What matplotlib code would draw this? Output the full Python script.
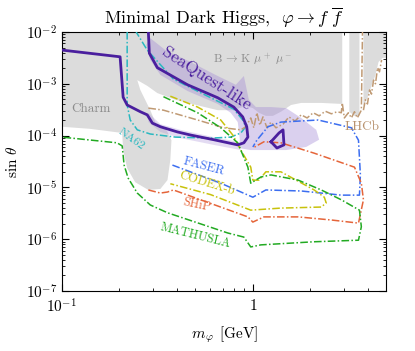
import numpy as np
import matplotlib
matplotlib.use("Agg")
import matplotlib.pyplot as plt

plt.rcParams['font.family'] = 'serif'
plt.rcParams['font.serif'] = ['cmr10', 'DejaVu Serif']
plt.rcParams['mathtext.fontset'] = 'cm'
plt.rcParams['axes.formatter.use_mathtext'] = True

# all curves as log10(m / GeV), log10(sin theta)
excl_logm = [-1.0, -0.853, -0.684, -0.679, -0.658, -0.616, -0.547, -0.484, -0.447, -0.432,
             -0.426, -0.458, -0.511, -0.537, -0.589, -0.605, -0.553, -0.5, -0.405, -0.274,
             -0.184, -0.105, -0.037, 0.0, 0.032, 0.068, 0.105, 0.147, 0.2, 0.253,
             0.358, 0.468, 0.468, 0.505, 0.505, 0.532, 0.558, 0.558, 0.579, 0.579,
             0.6, 0.621, 0.642, 0.658, 0.679, 0.699, 0.699, -1.0]
excl_logs = [-3.83, -3.87, -3.95, -4.28, -4.63, -4.9, -5.05, -5.03, -4.86, -4.47,
             -4.09, -3.85, -3.74, -3.51, -3.12, -2.93, -3.04, -3.18, -3.31, -3.43,
             -3.51, -3.51, -3.43, -3.47, -3.56, -3.62, -3.62, -3.54, -3.41, -3.37,
             -3.37, -3.39, -2.0, -2.0, -3.54, -3.62, -3.62, -2.0, -2.0, -3.43,
             -3.27, -3.04, -2.83, -2.58, -2.5, -2.5, -2.0, -2.0]

band_logm = [-0.537, -0.458, -0.326, -0.195, -0.089, -0.047, -0.021, 0.016, 0.095, 0.174,
             0.253, 0.332, 0.347, 0.279, 0.174, 0.068, -0.011, -0.074, -0.068, -0.079,
             -0.116, -0.184, -0.342, -0.484, -0.537, -0.558]
band_logs = [-2.12, -2.35, -2.58, -2.83, -3.02, -2.85, -3.31, -3.45, -3.45, -3.47,
             -3.66, -3.89, -4.08, -4.22, -4.28, -4.28, -4.28, -4.24, -4.08, -3.74,
             -3.56, -3.39, -3.14, -2.83, -2.54, -2.25]
band2_logm = [-0.547, -0.484, -0.379, -0.205, -0.079, -0.063, -0.205, -0.379, -0.484, -0.547]
band2_logs = [-3.56, -3.78, -3.89, -4.03, -4.12, -4.28, -4.18, -4.05, -3.93, -3.74]

seaquest_logm = [-1.0, -0.695, -0.679, -0.658, -0.589, -0.553, -0.526, -0.484, -0.395, -0.326,
                 -0.205, -0.079, -0.047, -0.026, -0.032, -0.053, -0.1, -0.184, -0.342, -0.5,
                 -0.542, -0.547]
seaquest_logs = [-2.35, -2.48, -3.26, -3.41, -3.54, -3.6, -3.76, -3.83, -3.93, -3.99,
                 -4.08, -4.18, -4.14, -4.03, -3.83, -3.64, -3.45, -3.27, -3.02, -2.69,
                 -2.41, -2.0]
island_logm = [0.095, 0.137, 0.158, 0.163, 0.126, 0.095]
island_logs = [-4.12, -3.95, -3.89, -4.18, -4.24, -4.12]

na62_logm = [-0.658, -0.658, -0.642, -0.605, -0.537, -0.405, -0.221, -0.116, -0.063, -0.037,
             -0.053, -0.1, -0.237, -0.416, -0.553, -0.611]
na62_logs = [-2.0, -3.41, -3.7, -3.89, -3.97, -4.03, -4.05, -4.03, -3.95, -3.83,
             -3.7, -3.49, -3.24, -2.91, -2.35, -2.0]

lhcb_logm = [-0.547, -0.468, -0.289, -0.153, -0.063, -0.037, -0.011, 0.005, 0.021, 0.037,
             0.053, 0.074, 0.095, 0.121, 0.158, 0.189, 0.221, 0.253, 0.284, 0.316,
             0.347, 0.379, 0.411, 0.442, 0.463, 0.468, 0.479, 0.5, 0.516, 0.532,
             0.547, 0.568, 0.574]
lhcb_logs = [-3.47, -3.51, -3.7, -3.85, -3.89, -3.83, -3.66, -3.85, -3.56, -3.8,
             -3.64, -3.85, -3.74, -3.85, -3.78, -3.64, -3.72, -3.6, -3.66, -3.56,
             -3.62, -3.53, -3.58, -3.54, -3.56, -3.37, -3.66, -3.56, -3.66, -3.54,
             -3.66, -3.51, -2.0]
lhcb2_logm = [0.579, 0.589, 0.6, 0.611, 0.621, 0.632, 0.642, 0.653, 0.663, 0.674]
lhcb2_logs = [-3.51, -3.31, -3.39, -3.12, -3.2, -2.93, -3.0, -2.69, -2.77, -2.54]

faser_logm = [-0.421, -0.168, 0.0, 0.068, 0.253, 0.463, 0.558, 0.563, 0.553, 0.516,
              0.342, 0.147, 0.079, 0.021, 0.0]
faser_logs = [-4.57, -4.92, -5.19, -5.05, -5.07, -5.15, -5.15, -4.76, -4.09, -3.85,
              -3.7, -3.74, -3.83, -4.09, -4.22]

codex_logm = [-0.432, -0.289, -0.168, -0.105, -0.063, -0.011, 0.0, 0.032, 0.068, 0.147,
              0.321, 0.374, 0.384, 0.358, 0.147, -0.011, -0.221, -0.432]
codex_logs = [-3.24, -3.45, -3.7, -3.99, -4.28, -4.61, -4.86, -4.86, -4.7, -4.7,
              -5.05, -5.19, -5.3, -5.38, -5.4, -5.44, -5.14, -4.93]

ship_logm = [-0.547, -0.484, -0.447, -0.416, -0.026, 0.0, 0.058, 0.237, 0.411, 0.553,
             0.579, 0.568, 0.532, 0.321, 0.147, 0.058, 0.0]
ship_logs = [-5.05, -5.11, -5.09, -5.05, -5.57, -5.67, -5.57, -5.57, -5.63, -5.69,
             -5.24, -4.92, -4.61, -4.34, -4.14, -4.12, -4.24]

mathusla_logm = [-0.468, -0.289, -0.168, -0.079, -0.026, -0.011, 0.042, 0.095, 0.237, 0.358,
                 0.463, 0.558, 0.568, 0.553, 0.321, 0.042, -0.011, -0.047, -0.132, -0.447,
                 -0.537, -0.605, -0.653, -0.674, -0.684, -0.711, -1.0]
mathusla_logs = [-3.25, -3.56, -3.85, -4.14, -4.61, -4.92, -4.8, -4.76, -4.86, -5.05,
                 -5.24, -5.44, -5.76, -6.02, -6.05, -6.11, -6.15, -5.96, -5.88, -5.49,
                 -5.34, -5.11, -4.82, -4.57, -4.2, -4.14, -4.03]


def p(lm, ls):
    return 10 ** np.array(lm), 10 ** np.array(ls)


fig = plt.figure(figsize=(4.15, 3.51), dpi=100)
ax = fig.add_axes([0.149, 0.171, 0.782, 0.738])
ax.set_xscale('log')
ax.set_yscale('log')

ax.fill(*p(excl_logm, excl_logs), color='#dcdcdc', lw=0, zorder=1)
ax.fill(*p(band_logm, band_logs), color='#a48ad6', alpha=0.4, lw=0, zorder=2)
ax.fill(*p(band2_logm, band2_logs), color='#a48ad6', alpha=0.3, lw=0, zorder=2)

dd = (0, (5, 1.5, 1, 1.5))
ax.plot(*p(na62_logm, na62_logs), color='#2ab8c0', lw=1.1, ls=dd, zorder=3)
ax.plot(*p(lhcb_logm, lhcb_logs), color='#c09a74', lw=1.1, ls=dd, zorder=3)
ax.plot(*p(lhcb2_logm, lhcb2_logs), color='#c09a74', lw=1.1, ls=dd, zorder=3)
ax.plot(*p(faser_logm, faser_logs), color='#3c6ef0', lw=1.1, ls=dd, zorder=3)
ax.plot(*p(codex_logm, codex_logs), color='#c8c20c', lw=1.1, ls=dd, zorder=3)
ax.plot(*p(ship_logm, ship_logs), color='#e5653a', lw=1.1, ls=dd, zorder=3)
ax.plot(*p(mathusla_logm, mathusla_logs), color='#22aa22', lw=1.1, ls=dd, zorder=3)
ax.plot(*p(seaquest_logm, seaquest_logs), color='#4a1f9e', lw=2, zorder=4)
ax.plot(*p(island_logm, island_logs), color='#4a1f9e', lw=2, zorder=4)

ax.text(0.57, 1.25e-3, 'SeaQuest-like', color='#4a1f9e', fontsize=12.5, rotation=-33,
        ha='center', va='center', zorder=5)
ax.text(1.0, 2.9e-3, r'B$\,\to\,$K $\mu^+\ \mu^-$', color='#8c8c8c', fontsize=8.5,
        ha='center', va='center')
ax.text(0.142, 3.2e-4, 'Charm', color='#8c8c8c', fontsize=9.5, ha='center', va='center')
ax.text(3.75, 1.47e-4, 'LHCb', color='#b8926e', fontsize=9.5, ha='center', va='center')
ax.text(0.231, 8.5e-5, 'NA62', color='#2ab8c0', fontsize=8.5, rotation=-35, ha='center', va='center')
ax.text(0.552, 2.5e-5, 'FASER', color='#3c6ef0', fontsize=9, rotation=-15, ha='center', va='center')
ax.text(0.57, 1.18e-5, 'CODEX-b', color='#c8c20c', fontsize=9, rotation=-17, ha='center', va='center')
ax.text(0.507, 4.6e-6, 'SHiP', color='#e5653a', fontsize=9, rotation=-12, ha='center', va='center')
ax.text(0.50, 1.15e-6, 'MATHUSLA', color='#22aa22', fontsize=9, rotation=-14, ha='center', va='center')

ax.set_xlim(0.1, 5)
ax.set_ylim(1e-7, 1e-2)
ax.set_xticks([0.1, 1])
ax.set_xticklabels([r'$10^{-1}$', r'$1$'])
ax.set_yticks([1e-7, 1e-6, 1e-5, 1e-4, 1e-3, 1e-2])
ax.tick_params(which='both', direction='in', top=True, right=True, labelsize=11)
ax.tick_params(axis='x', which='major', pad=5)
ax.tick_params(which='major', length=5)
ax.tick_params(which='minor', length=2.5)
ax.set_xlabel(r'$m_{\,\varphi}$ [GeV]', fontsize=11, labelpad=6)
ax.set_ylabel(r'$\sin\,\theta$', fontsize=11)
ax.set_title(r'Minimal Dark Higgs, $\ \varphi \to f\ \overline{f}$', fontsize=13)

fig.savefig('out.png', dpi=100)
